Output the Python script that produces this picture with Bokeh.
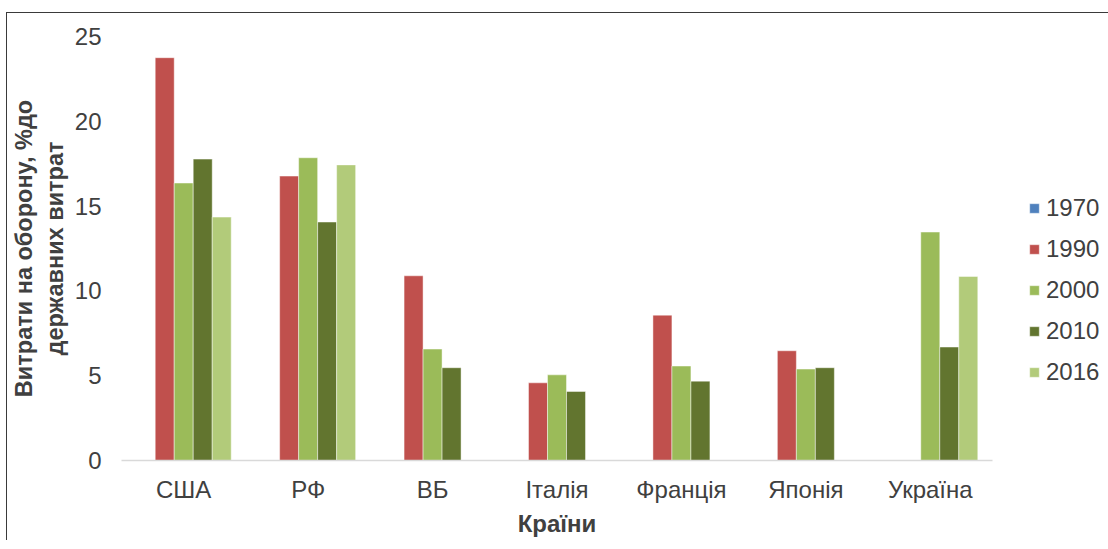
from bokeh.plotting import figure
from bokeh.models import FactorRange, Legend, LegendItem, ColumnDataSource, FixedTicker
from bokeh.transform import dodge
from bokeh.embed import file_html
from bokeh.resources import INLINE

nan = float("nan")
countries = ["США", "РФ", "ВБ", "Італія", "Франція", "Японія", "Україна"]
years = ["1970", "1990", "2000", "2010", "2016"]
v1970 = [nan, nan, nan, nan, nan, nan, nan]
v1990 = [23.75, 16.77, 10.89, 4.58, 8.57, 6.47, nan]
v2000 = [16.36, 17.85, 6.57, 5.05, 5.57, 5.39, 13.47]
v2010 = [17.77, 14.06, 5.47, 4.07, 4.68, 5.47, 6.69]
v2016 = [14.35, 17.43, nan, nan, nan, nan, 10.85]
colors = ["#4F81BD", "#C0504D", "#9BBB59", "#62752F", "#B2CB7A"]

source = ColumnDataSource(dict(country=countries, y1970=v1970, y1990=v1990,
                               y2000=v2000, y2010=v2010, y2016=v2016))

FONT = "Liberation Sans"
TXT = "#404040"

p = figure(x_range=FactorRange(*countries), y_range=(0, 25),
           frame_width=871, frame_height=424, output_backend="svg", toolbar_location=None,
           min_border_left=100, min_border_right=108, min_border_top=23, min_border_bottom=80)
p.styles = {"border-top": "1.5px solid #3a3a3a", "border-left": "1.5px solid #3a3a3a",
            "position": "relative", "top": "12px", "left": "6px"}
p.outline_line_color = None
p.xgrid.grid_line_color = None
p.ygrid.grid_line_color = None
p.background_fill_color = "white"

w = 0.1527
offsets = [-2 * w, -w, 0, w, 2 * w]
renderers = []
for yr, off, col in zip(years, offsets, colors):
    r = p.vbar(x=dodge("country", off, range=p.x_range), top="y" + yr, width=w,
               source=source, fill_color=col, line_color="white", line_alpha=0.45, line_width=1)
    renderers.append(r)

# axes
p.yaxis.ticker = FixedTicker(ticks=[0, 5, 10, 15, 20, 25])
p.yaxis.axis_line_color = None
p.yaxis.major_tick_line_color = None
p.yaxis.minor_tick_line_color = None
p.yaxis.major_label_text_font = FONT
p.yaxis.major_label_text_font_size = "24px"
p.yaxis.major_label_text_color = TXT
p.yaxis.major_label_standoff = 14
p.yaxis.axis_label = "Витрати на оборону, %до\nдержавних витрат"
p.yaxis.axis_label_text_font = FONT
p.yaxis.axis_label_text_font_style = "bold"
p.yaxis.axis_label_text_font_size = "23.5px"
p.yaxis.axis_label_text_color = TXT
p.yaxis.axis_label_standoff = 4

p.xaxis.axis_line_color = "#D9D9D9"
p.xaxis.axis_line_width = 1.5
p.xaxis.major_tick_line_color = None
p.xaxis.minor_tick_line_color = None
p.xaxis.major_label_text_font = FONT
p.xaxis.major_label_text_font_size = "24px"
p.xaxis.major_label_text_color = TXT
p.xaxis.major_label_standoff = 9
p.xaxis.axis_label = "Країни"
p.xaxis.axis_label_text_font = FONT
p.xaxis.axis_label_text_font_style = "bold"
p.xaxis.axis_label_text_font_size = "24px"
p.xaxis.axis_label_text_color = TXT
p.xaxis.axis_label_standoff = 4

legend = Legend(items=[LegendItem(label=yr, renderers=[r]) for yr, r in zip(years, renderers)],
                location=(36, 74))
legend.label_text_font = FONT
legend.label_text_font_size = "24px"
legend.label_text_color = TXT
legend.glyph_width = 12
legend.glyph_height = 12
legend.label_height = 26
legend.spacing = 13
legend.label_standoff = 6
legend.padding = 0
legend.margin = 0
legend.border_line_color = None
legend.background_fill_alpha = 0
p.add_layout(legend, "right")

open("out.html", "w").write(file_html(p, INLINE))
